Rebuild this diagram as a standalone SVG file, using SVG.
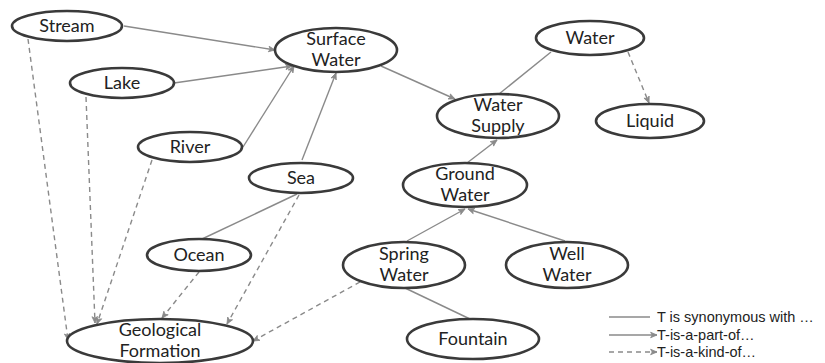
<svg xmlns="http://www.w3.org/2000/svg" width="825" height="363" viewBox="0 0 825 363">
  <style>
    .node ellipse { fill: #fff; stroke: #3a3a3a; stroke-width: 2.6; }
    .node text { font-family: Lato, "Open Sans", "Liberation Sans", sans-serif; font-size: 18px; fill: #222; text-anchor: middle; }
    .syn { stroke: #8a8a8a; stroke-width: 1.4; fill: none; }
    .part { stroke: #8a8a8a; stroke-width: 1.4; fill: none; marker-end: url(#arr); }
    .kind { stroke: #8a8a8a; stroke-width: 1.4; fill: none; stroke-dasharray: 5 4; marker-end: url(#arr); }
    .legend text { font-family: "Liberation Sans", Arial, sans-serif; font-size: 14.5px; fill: #222; }
  </style>
  <defs>
    <marker id="arr" viewBox="0 0 10 10" refX="9" refY="5" markerWidth="8" markerHeight="8" markerUnits="userSpaceOnUse" orient="auto">
      <path d="M1,1.5 L9,5 L1,8.5 L3,5 Z" fill="#8a8a8a" stroke="#8a8a8a" stroke-width="1" stroke-linejoin="round"/>
    </marker>
  </defs>
  <rect width="825" height="363" fill="#fff"/>

  <g id="connectors">
    <line class="part" x1="124" y1="26" x2="275" y2="50"/>
    <line class="part" x1="174" y1="83" x2="292" y2="66"/>
    <line class="part" x1="243" y1="147" x2="294" y2="66"/>
    <line class="part" x1="302" y1="160" x2="336" y2="73"/>
    <line class="part" x1="381" y1="66" x2="455" y2="99"/>
    <line class="syn" x1="551" y1="52" x2="499" y2="94"/>
    <line class="kind" x1="628" y1="52" x2="649" y2="103"/>
    <line class="part" x1="467" y1="163" x2="497" y2="140"/>
    <line class="part" x1="407" y1="241" x2="465" y2="209"/>
    <line class="part" x1="565" y1="241" x2="468" y2="209"/>
    <line class="syn" x1="405" y1="288" x2="470" y2="319"/>
    <line class="syn" x1="297" y1="194" x2="202" y2="239"/>
    <line class="kind" x1="299" y1="195" x2="227" y2="324"/>
    <line class="kind" x1="199" y1="272" x2="162" y2="318"/>
    <line class="kind" x1="360" y1="282" x2="253" y2="341"/>
    <line class="kind" x1="28" y1="39" x2="68" y2="340"/>
    <line class="kind" x1="86" y1="97" x2="95" y2="323"/>
    <line class="kind" x1="152" y1="160" x2="97" y2="324"/>
  </g>

  <g id="stream" class="node"><ellipse cx="67" cy="26" rx="55" ry="15"/><text x="67" y="32">Stream</text></g>
  <g id="surface-water" class="node"><ellipse cx="336" cy="50" rx="61" ry="22"/><text x="336" y="45">Surface</text><text x="336" y="66">Water</text></g>
  <g id="lake" class="node"><ellipse cx="122" cy="83" rx="52" ry="15"/><text x="122" y="89">Lake</text></g>
  <g id="river" class="node"><ellipse cx="190" cy="147" rx="52" ry="15"/><text x="190" y="153">River</text></g>
  <g id="sea" class="node"><ellipse cx="301" cy="178" rx="52" ry="15"/><text x="301" y="184">Sea</text></g>
  <g id="ocean" class="node"><ellipse cx="199" cy="255" rx="52" ry="16"/><text x="199" y="261">Ocean</text></g>
  <g id="geological-formation" class="node"><ellipse cx="160" cy="341" rx="93" ry="22"/><text x="160" y="336">Geological</text><text x="160" y="357">Formation</text></g>
  <g id="water" class="node"><ellipse cx="590" cy="38" rx="54" ry="17"/><text x="590" y="44">Water</text></g>
  <g id="water-supply" class="node"><ellipse cx="498" cy="116" rx="61" ry="22"/><text x="498" y="111">Water</text><text x="498" y="132">Supply</text></g>
  <g id="liquid" class="node"><ellipse cx="650" cy="121" rx="54" ry="17"/><text x="650" y="127">Liquid</text></g>
  <g id="ground-water" class="node"><ellipse cx="465" cy="185" rx="62" ry="22"/><text x="465" y="180">Ground</text><text x="465" y="201">Water</text></g>
  <g id="spring-water" class="node"><ellipse cx="404" cy="265" rx="61" ry="23"/><text x="404" y="260">Spring</text><text x="404" y="281">Water</text></g>
  <g id="well-water" class="node"><ellipse cx="567" cy="265" rx="61" ry="23"/><text x="567" y="260">Well</text><text x="567" y="281">Water</text></g>
  <g id="fountain" class="node"><ellipse cx="473" cy="339" rx="66" ry="20"/><text x="473" y="345">Fountain</text></g>

  <g id="legend" class="legend">
    <line class="syn" x1="609" y1="317" x2="650" y2="317"/>
    <text x="657" y="322">T is synonymous with …</text>
    <line class="part" x1="609" y1="335" x2="657" y2="335"/>
    <text x="657" y="340">T-is-a-part-of…</text>
    <line class="kind" x1="609" y1="352" x2="657" y2="352"/>
    <text x="657" y="357">T-is-a-kind-of…</text>
  </g>
</svg>
